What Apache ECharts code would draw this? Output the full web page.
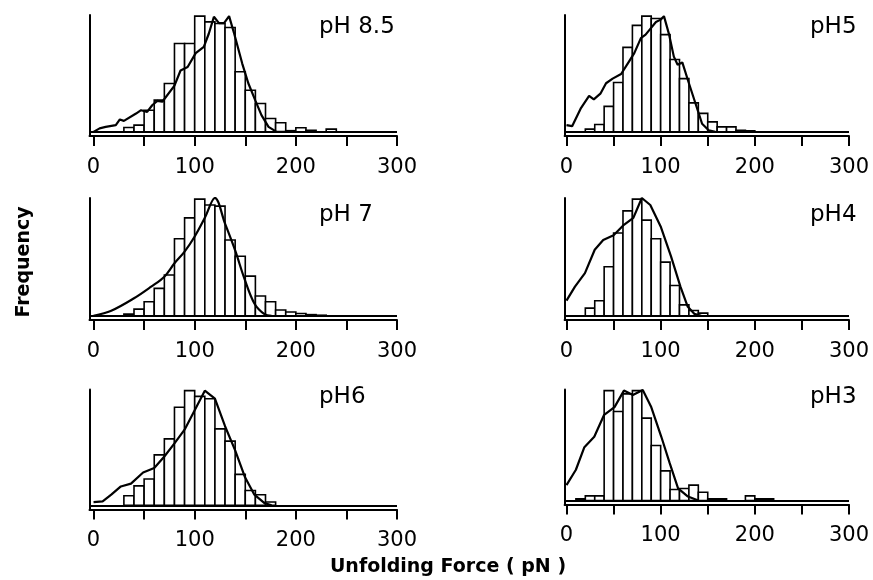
<!DOCTYPE html>
<html>
<head>
<meta charset="utf-8">
<script src="https://cdn.jsdelivr.net/npm/echarts@6/dist/echarts.min.js"></script>
<style>
html,body{margin:0;padding:0;background:#fff;}
#chart{width:873px;height:580px;}
</style>
</head>
<body>
<div id="chart"></div>
<script>
// ---- data (frequency normalised so the tallest bin = 100) ----
var binStarts = [0,10,20,30,40,50,60,70,80,90,100,110,120,130,140,150,160,170,180,190,200,210,220,230,240];
var binWidth = 10;
var panelLabels = ['pH 8.5', 'pH5', 'pH 7', 'pH4', 'pH6', 'pH3'];
var xTickValues = [0,50,100,150,200,250,300];
var xLabelValues = [0,100,200,300];

var histPH85 = [0,0,0,3.7,5.8,18.7,27.4,41.8,76.4,76.4,100,95.1,93.7,90.2,51.9,36,24.5,11.5,7.8,1,3.5,1.4,0,2.3,0];
var histPH5  = [0,0,2.3,6.3,22,42.6,73,92,100,98,84,62.5,46,25,16,8.6,4.3,4.3,1.4,0.9,0,0,0,0,0];
var histPH7  = [0,0,0,1.4,5.7,12,23.5,35,66,84,100,95,94,65,51,34,17,12,5,3.2,2,1,0.5,0,0];
var histPH4  = [0,0,6.6,12.9,42,71,90,100,82,66,46,26,9.4,4.6,2.3,0,0,0,0,0,0,0,0,0,0];
var histPH6  = [0,0,0,8.4,17,23,44,58,85.5,100,95,93,66.7,56,27,13,9.3,2.9,0,0,0,0,0,0,0];
var histPH3  = [0,1.5,4.2,4.2,100,81,97,100,75,50,27,10,11,14,7.6,1.5,1.5,0,0,4.2,1.5,1.5,0,0,0];

var curvePH85 = [[0,0],[6,3],[12,4.3],[22,5.8],[26,10.7],[30,9.5],[42,15.8],[47,18.7],[53,17.3],[58,23],[63,26.8],[68,26],[80,40],[86,53],[93,56],[101,68],[109,73.5],[114,85],[119,99.5],[124,94],[129,94],[134,100],[139,85],[147,59],[153,42],[160,27],[166,14.4],[173,4.3],[181,0],[190,0]];
var curvePH5  = [[0,5.8],[6,4.9],[15,20],[24,31],[29,28],[36,33],[42,42],[49,46],[58,50],[65,59],[72,68],[79,81],[84,84],[89,89],[95,95],[100,97],[103.5,100],[109,84],[114,65],[118,58],[123,60],[130,42],[137,24.5],[144,7],[151,1.4],[158,0]];
var curvePH7  = [[0,0],[17.5,4.3],[40,15],[57,25],[70,33.5],[80,45],[90,55],[100,68],[110,84],[120,101],[130,79],[140,56],[149.5,31],[159,10.6],[169,1.4],[176,0]];
var curvePH4  = [[0,13],[9,25],[19.6,36.6],[30,56.6],[39,65],[50,69],[61,78],[71,84],[80,101],[89,95],[100,76.6],[111,51],[121,25],[128.6,8],[135.7,1.7],[143,0]];
var curvePH6  = [[0,2.9],[9,3.5],[17.5,9.3],[27,16.5],[37,19],[49,28.7],[60,32.5],[70,42.6],[80,54],[90,66],[100,83],[110,100],[120,93],[130,69],[140,48],[149.5,25],[159,9.3],[169,2],[176,0]];
var curvePH3  = [[0,14],[10,28],[19,48.5],[29.5,58],[40,78],[51,85],[61,100],[70.5,96],[81,100.6],[90,85],[100.7,58],[109.6,34],[118.5,11],[129,3.6],[140,0]];

var hists = [histPH85, histPH5, histPH7, histPH4, histPH6, histPH3];
var curves = [curvePH85, curvePH5, curvePH7, curvePH4, curvePH6, curvePH3];

// ---- layout ----
var grids = [
  {left: 89.5, top: 15,    width: 307.5, height: 121},
  {left: 564.6, top: 15,   width: 284.4, height: 121},
  {left: 89.5, top: 198,   width: 307.5, height: 122},
  {left: 564.6, top: 198,  width: 284.4, height: 122},
  {left: 89.5, top: 389.5, width: 307.5, height: 120},
  {left: 564.6, top: 389.5,width: 284.4, height: 115}
];
var xMins = [-4, -2, -4, -2, -4, -2];
var labelPos = [[319, 27], [810, 27], [319, 215], [810, 215], [319, 397], [810, 397]];

var xAxes = [], yAxes = [], series = [], graphics = [];
for (var i = 0; i < 6; i++) {
  xAxes.push({
    type: 'value', gridIndex: i, min: xMins[i], max: 300,
    splitLine: {show: false},
    axisLine: {show: true, onZero: false, lineStyle: {color: '#000', width: 2}},
    axisTick: {show: true, customValues: xTickValues, length: 10, lineStyle: {color: '#000', width: 2}},
    axisLabel: {customValues: xLabelValues, margin: 21, color: '#000', fontSize: 21, fontFamily: 'DejaVu Sans'}
  });
  yAxes.push({
    type: 'value', gridIndex: i, min: -3.6, max: 101,
    axisLine: {show: true, onZero: false, lineStyle: {color: '#000', width: 2}},
    axisTick: {show: false}, axisLabel: {show: false}, splitLine: {show: false}
  });
  var bins = [];
  for (var b = 0; b < binStarts.length; b++) {
    if (hists[i][b] > 0) bins.push([binStarts[b], hists[i][b]]);
  }
  series.push({
    type: 'custom', xAxisIndex: i, yAxisIndex: i, data: bins,
    encode: {x: 0, y: 1},
    renderItem: function (params, api) {
      var x0 = api.value(0), h = api.value(1);
      var p0 = api.coord([x0, 0]);
      var p1 = api.coord([x0 + binWidth, h]);
      return {
        type: 'rect',
        shape: {x: p0[0], y: p1[1], width: p1[0] - p0[0], height: p0[1] - p1[1]},
        style: {fill: '#fff', stroke: '#000', lineWidth: 1.6}
      };
    },
    markLine: {
      silent: true, symbol: 'none', label: {show: false},
      lineStyle: {color: '#000', width: 1.8, type: 'solid'},
      data: [{yAxis: 0}]
    },
    z: 2
  });
  series.push({
    type: 'line', xAxisIndex: i, yAxisIndex: i, data: curves[i],
    showSymbol: false, smooth: (i === 2 ? 0.35 : false),
    lineStyle: {color: '#000', width: 2.2},
    z: 3
  });
  graphics.push({
    type: 'text', x: labelPos[i][0], y: labelPos[i][1],
    style: {text: panelLabels[i], fill: '#000', font: '23px "DejaVu Sans"', textAlign: 'left', textVerticalAlign: 'middle'}
  });
}
graphics.push({
  type: 'text', x: 24, y: 262, rotation: Math.PI / 2,
  style: {text: 'Frequency', fill: '#000', font: 'bold 19px "DejaVu Sans"', textAlign: 'center', textVerticalAlign: 'middle'}
});
graphics.push({
  type: 'text', x: 448, y: 567,
  style: {text: 'Unfolding Force ( pN )', fill: '#000', font: 'bold 19px "DejaVu Sans"', textAlign: 'center', textVerticalAlign: 'middle'}
});

var chart = echarts.init(document.getElementById('chart'));
chart.setOption({
  animation: false,
  backgroundColor: '#fff',
  grid: grids,
  xAxis: xAxes,
  yAxis: yAxes,
  series: series,
  graphic: graphics
});
</script>
</body>
</html>
